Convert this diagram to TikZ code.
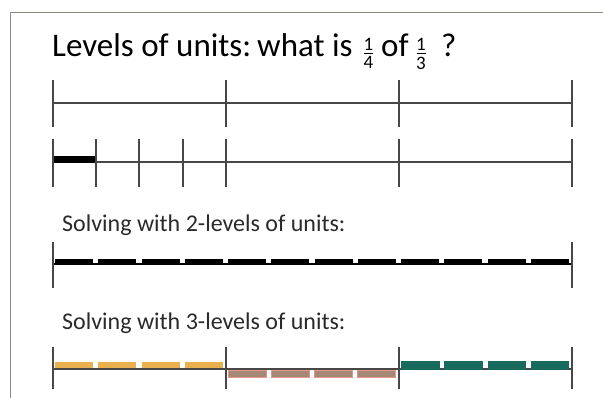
\documentclass[tikz,border=0pt]{standalone}
\usepackage{fontspec}
\usetikzlibrary{calc}
\setmainfont{Carlito}
\definecolor{framec}{HTML}{8A8A82}
\definecolor{linec}{HTML}{474747}
\definecolor{orangec}{HTML}{E8B04E}
\definecolor{brownc}{HTML}{A68877}
\definecolor{brownedge}{HTML}{E59A88}
\definecolor{tealc}{HTML}{186A5C}
\definecolor{textc}{HTML}{2A2A2A}
\begin{document}
\begin{tikzpicture}[x=1pt,y=-1pt,
  rule/.style={draw=linec,line width=2pt},
  tick/.style={draw=linec,line width=2.2pt},
  heading/.style={anchor=base west,inner sep=0pt,font=\fontsize{33}{38}\selectfont},
  digit/.style={inner sep=0pt,font=\fontsize{19}{20}\selectfont},
  fbar/.style={draw=black,line width=0.9pt},
  sub/.style={anchor=base west,inner sep=0pt,text=textc,font=\fontsize{24}{27}\selectfont}]
\useasboundingbox (0,0) rectangle (603,398);
\fill[white] (0,0) rectangle (603,398);
\draw[framec,line width=1.2pt] (10.5,400) -- (10.5,12.7) -- (606,12.7);
% title
\node[heading] (title) at (52,57) {Levels of units:\hspace{-0.12em} what is};
\node[digit,anchor=south] (n1) at (368.5,50.5) {1};
\node[digit,anchor=north] (d1) at (368.5,56.5) {4};
\draw[fbar] ($(n1.south)+(-4.5,3)$) -- ($(n1.south)+(4.5,3)$);
\node[heading] (of) at (381,57) {of};
\node[digit,anchor=south] (n2) at (421,50.5) {1};
\node[digit,anchor=north] (d2) at (421,56.5) {3};
\draw[fbar] ($(n2.south)+(-4.5,3)$) -- ($(n2.south)+(4.5,3)$);
\node[heading] (q) at (441,57) {?};
% row 1
\coordinate (a0) at (53,103.5);
\coordinate (a3) at (572,103.5);
\draw[rule] (a0) -- (a3);
\foreach \i in {0,1,2,3}{
  \draw[tick] ($(53,80)+(\i*173,0)$) -- ($(53,127)+(\i*173,0)$);
}
% row 2
\coordinate (b0) at (53,162.5);
\coordinate (b3) at (572,162.5);
\draw[rule] (b0) -- (b3);
\fill[black] (53,156.5) rectangle (96,163);
\foreach \x in {53,96,139,183,226,399,572}{
  \draw[tick] (\x,139) -- (\x,187);
}
% row 3
\node[sub] (s2) at (62,232) {Solving with 2-levels of units:};
\coordinate (c0) at (53,264);
\coordinate (c3) at (572,264);
\draw[draw=black,line width=2.8pt] (c0) -- (c3);
\foreach \i in {0,...,11}{
  \fill[black] ($(55,259)+(\i*43.25,0)$) rectangle ($(53+40,265)+(\i*43.25,0)$);
}
\draw[tick] (53,242) -- (53,288);
\draw[tick] (572,242) -- (572,288);
% row 4
\node[sub] (s3) at (62,330) {Solving with 3-levels of units:};
\coordinate (d0) at (53,369);
\coordinate (d3) at (572,369);
\draw[rule] (d0) -- (d3);
\foreach \i in {0,...,3}{
  \fill[orangec] ($(55,362)+(\i*43.25,0)$) rectangle ($(53+40,367.8)+(\i*43.25,0)$);
  \filldraw[fill=brownc,draw=brownedge,line width=0.6pt] ($(228,370.5)+(\i*43.25,0)$) rectangle ($(226+40,377)+(\i*43.25,0)$);
  \fill[tealc] ($(401,361.5)+(\i*43.25,0)$) rectangle ($(399+40.5,369.8)+(\i*43.25,0)$);
}
\foreach \x in {53,226,399,572}{
  \draw[tick] (\x,347) -- (\x,389);
}
\end{tikzpicture}
\end{document}
